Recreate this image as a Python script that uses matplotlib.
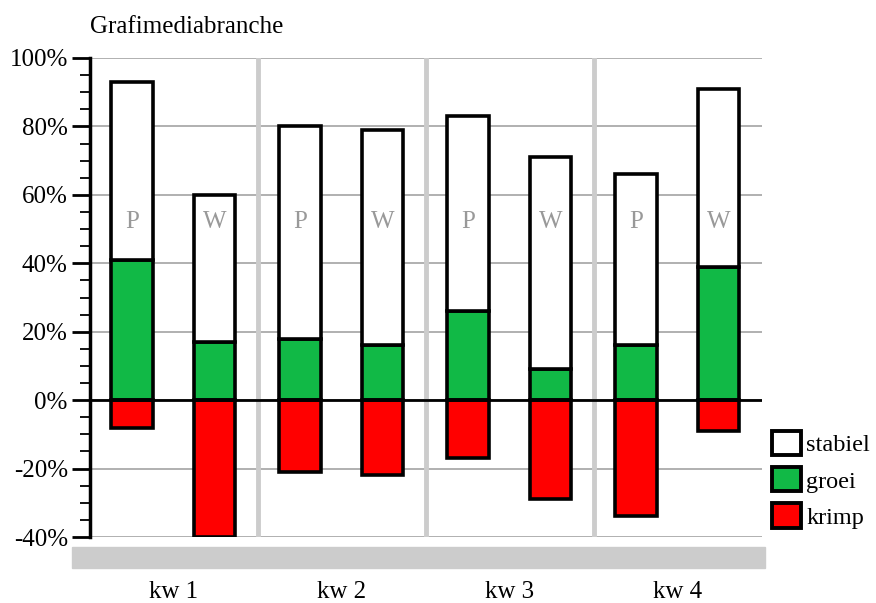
import numpy as np
import matplotlib.pyplot as plt
from matplotlib.patches import Patch, Rectangle
from matplotlib.transforms import blended_transform_factory

plt.rcParams['font.family'] = ['Liberation Serif', 'DejaVu Serif']

# data
kwartalen = ['kw 1', 'kw 2', 'kw 3', 'kw 4']
reeks = ['P', 'W']  # per kwartaal: P en W
totaal = [93, 60, 80, 79, 83, 71, 66, 91]
groei = [41, 17, 18, 16, 26, 9, 16, 39]
krimp = [-8, -40, -21, -22, -17, -29, -34, -9]
ytick_waarden = [-40, -20, 0, 20, 40, 60, 80, 100]

groen = '#11b946'
rood = '#ff0000'

fig = plt.figure(figsize=(8.76, 6.03), dpi=100)
ax = fig.add_axes([90/876, 1-537/603, (762-90)/876, (537-58)/603])

# x posities: P op 0.25, W op 0.75 binnen elk kwartaal
x = []
for i in range(len(kwartalen)):
    for j in range(len(reeks)):
        x.append(i + 0.25 + 0.49*j)
x = np.array(x)
stabiel = np.array(totaal) - np.array(groei)

bw = 0.245
lw = 2.6
ax.bar(x, groei, bw, color=groen, edgecolor='black', linewidth=lw, zorder=3)
ax.bar(x, stabiel, bw, bottom=groei, color='white', edgecolor='black', linewidth=lw, zorder=3)
ax.bar(x, krimp, bw, color=rood, edgecolor='black', linewidth=lw, zorder=3)

for xi, k in zip(x, reeks * len(kwartalen)):
    ax.text(xi, 52, k, ha='center', va='center', color='#999999', fontsize=18, zorder=4)

# grid en scheidingslijnen
for v in ytick_waarden:
    ax.axhline(v, color='#aaaaaa', lw=1.3, zorder=1)
ax.axhline(0, color='black', lw=2, zorder=4)
for s in range(1, len(kwartalen)):
    ax.axvline(s, color='#cccccc', lw=3.5, zorder=2)

ax.set_xlim(0, 4)
ax.set_ylim(-40, 100)
ax.set_yticks(ytick_waarden)
ax.set_yticklabels([f'{v}%' for v in ytick_waarden], fontsize=18)
ax.set_yticks(np.arange(-40, 101, 5), minor=True)
ax.tick_params(axis='y', which='major', length=13, width=2, pad=3)
ax.tick_params(axis='y', which='minor', length=7, width=1.3)
ax.set_xticks([])
for sp in ['top', 'right', 'bottom']:
    ax.spines[sp].set_visible(False)
ax.spines['left'].set_linewidth(2.5)

# grijze balk onder de grafiek
fig.patches.append(Rectangle((72/876, 1-568/603), 693/876, 21/603,
                             transform=fig.transFigure, color='#cccccc', zorder=0))

tr = blended_transform_factory(ax.transData, fig.transFigure)
for i, kw in enumerate(kwartalen):
    fig.text(i + 0.5, 1-592/603, kw, transform=tr, ha='center', va='center', fontsize=18)

fig.text(90/876, 1-27/603, 'Grafimediabranche', ha='left', va='center', fontsize=18)

handles = [Patch(facecolor='white', edgecolor='black', linewidth=2.8),
           Patch(facecolor=groen, edgecolor='black', linewidth=2.8),
           Patch(facecolor=rood, edgecolor='black', linewidth=2.8)]
fig.legend(handles, ['stabiel', 'groei', 'krimp'], loc='upper left',
           bbox_to_anchor=(755/876, 1-414/603), frameon=False, fontsize=17.5,
           handlelength=1.2, handleheight=1.15, handletextpad=0.2,
           labelspacing=0.45, borderpad=0.2)

fig.savefig('out.png', dpi=100)
